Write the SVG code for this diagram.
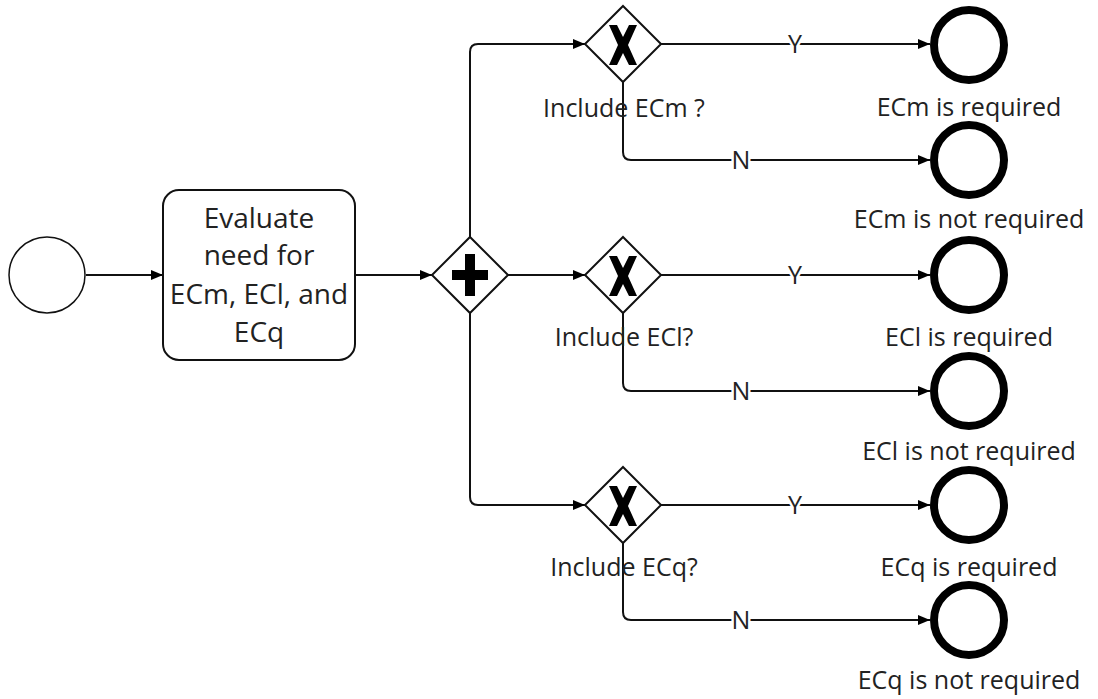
<svg xmlns="http://www.w3.org/2000/svg" width="1098" height="699" viewBox="0 0 1098 699">
  <style>
    .flow { fill: none; stroke: #111; stroke-width: 2; marker-end: url(#arrow); }
    .gw { fill: #fff; stroke: #111; stroke-width: 2; }
    .mark { fill: #000; }
    .end { fill: #fff; stroke: #000; stroke-width: 8; }
    .lbl { font-family: "Open Sans", "Liberation Sans", sans-serif; font-size: 25px; fill: #222; text-anchor: middle; }
    .task { font-family: "Open Sans", "Liberation Sans", sans-serif; font-size: 28px; fill: #222; text-anchor: middle; }
    .cond { font-family: "Open Sans", "Liberation Sans", sans-serif; font-size: 25px; fill: #222; text-anchor: middle; stroke: #fff; stroke-width: 5; paint-order: stroke; }
  </style>
  <defs>
    <marker id="arrow" viewBox="0 0 12 10" refX="12" refY="5" markerWidth="12" markerHeight="10" markerUnits="userSpaceOnUse" orient="auto">
      <path d="M0,0 L12,5 L0,10 Z" fill="#000"/>
    </marker>
    <polygon id="xmark" points="-14,-20 -6,-20 0,-8 6,-20 14,-20 5,0 14,20 6,20 0,8 -6,20 -14,20 -5,0"/>
  </defs>
  <rect width="1098" height="699" fill="#fff"/>

  <!-- sequence flows -->
  <g id="connectors">
    <path class="flow" d="M86,275 H163"/>
    <path class="flow" d="M355,275 H432"/>
    <path class="flow" d="M470,237 V52 Q470,44 478,44 H585"/>
    <path class="flow" d="M508,275 H585"/>
    <path class="flow" d="M470,313 V497 Q470,505 478,505 H585"/>

    <path class="flow" d="M661,44 H930"/>
    <path class="flow" d="M623,82 V152 Q623,160 631,160 H930"/>
    <path class="flow" d="M661,275 H930"/>
    <path class="flow" d="M623,313 V383 Q623,391 631,391 H930"/>
    <path class="flow" d="M661,505 H930"/>
    <path class="flow" d="M623,543 V612 Q623,620 631,620 H930"/>

    <text class="cond" x="795" y="53">Y</text>
    <text class="cond" x="741" y="169">N</text>
    <text class="cond" x="795" y="284">Y</text>
    <text class="cond" x="741" y="400">N</text>
    <text class="cond" x="795" y="514">Y</text>
    <text class="cond" x="741" y="629">N</text>
  </g>

  <!-- start event -->
  <g id="start">
    <circle cx="47" cy="275" r="38" fill="#fff" stroke="#111" stroke-width="1.5"/>
  </g>

  <!-- task -->
  <g id="evaluate">
    <rect x="163" y="190" width="192" height="170" rx="16" fill="#fff" stroke="#111" stroke-width="2"/>
    <text class="task" x="259" y="228">Evaluate</text>
    <text class="task" x="259" y="265">need for</text>
    <text class="task" x="259" y="304">ECm, ECl, and</text>
    <text class="task" x="259" y="342">ECq</text>
  </g>

  <!-- parallel split -->
  <g id="split">
    <polygon class="gw" points="470,237 508,275 470,313 432,275"/>
    <path class="mark" d="M465,254 H475 V270 H488 V280 H475 V296 H465 V280 H452 V270 H465 Z"/>
  </g>

  <!-- exclusive decisions -->
  <g id="decision-ecm">
    <polygon class="gw" points="623,6 661,44 623,82 585,44"/>
    <use href="#xmark" x="623" y="45" class="mark"/>
    <text class="lbl" x="624" y="117">Include ECm ?</text>
  </g>
  <g id="decision-ecl">
    <polygon class="gw" points="623,237 661,275 623,313 585,275"/>
    <use href="#xmark" x="623" y="276" class="mark"/>
    <text class="lbl" x="624" y="346">Include ECl?</text>
  </g>
  <g id="decision-ecq">
    <polygon class="gw" points="623,467 661,505 623,543 585,505"/>
    <use href="#xmark" x="623" y="506" class="mark"/>
    <text class="lbl" x="624" y="576">Include ECq?</text>
  </g>

  <!-- end events -->
  <g id="end-ecm-yes">
    <circle class="end" cx="969" cy="45" r="35"/>
    <text class="lbl" x="969" y="116">ECm is required</text>
  </g>
  <g id="end-ecm-no">
    <circle class="end" cx="969" cy="160" r="35"/>
    <text class="lbl" x="969" y="228">ECm is not required</text>
  </g>
  <g id="end-ecl-yes">
    <circle class="end" cx="969" cy="275" r="35"/>
    <text class="lbl" x="969" y="346">ECl is required</text>
  </g>
  <g id="end-ecl-no">
    <circle class="end" cx="969" cy="391" r="35"/>
    <text class="lbl" x="969" y="460">ECl is not required</text>
  </g>
  <g id="end-ecq-yes">
    <circle class="end" cx="969" cy="505" r="35"/>
    <text class="lbl" x="969" y="576">ECq is required</text>
  </g>
  <g id="end-ecq-no">
    <circle class="end" cx="969" cy="620" r="35"/>
    <text class="lbl" x="969" y="689">ECq is not required</text>
  </g>
</svg>
